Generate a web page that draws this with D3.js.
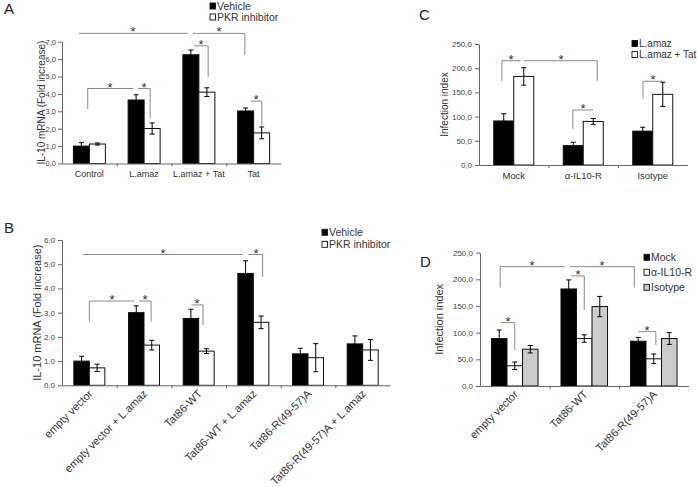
<!DOCTYPE html>
<html><head><meta charset="utf-8">
<script src="https://cdn.jsdelivr.net/npm/d3@7"></script>
<style>
html,body{margin:0;padding:0;background:#fff;}
svg{display:block;font-family:"Liberation Sans",Arial,sans-serif;}
</style></head>
<body>
<svg id="chart" width="697" height="487"></svg>
<script>
// ---------- Panel A ----------
const A_categories = ["Control", "L.amaz", "L.amaz + Tat", "Tat"];
const A_vehicle = [1.0, 3.65, 6.25, 3.02];
const A_vehicleErr = [0.2, 0.3, 0.27, 0.17];
const A_pkr = [1.12, 2.01, 4.1, 1.76];
const A_pkrErr = [0.06, 0.32, 0.25, 0.34];
const A_ticks = [0, 1, 2, 3, 4, 5, 6, 7];
const A_legend = ["Vehicle", "PKR inhibitor"];
// brackets: from/to in category units, y level, drop side, drop end value
const A_brackets = [
  {from: 0.31, to: 2.30, y: 7.48, drop: null, dropTo: null},
  {from: 2.39, to: 3.34, y: 7.48, drop: "R", dropTo: 6.22},
  {from: 2.41, to: 2.67, y: 6.76, drop: "R", dropTo: 4.98},
  {from: 0.47, to: 1.30, y: 4.31, drop: "L", dropTo: 3.12},
  {from: 1.39, to: 1.61, y: 4.31, drop: "R", dropTo: 2.6},
  {from: 3.45, to: 3.65, y: 3.58, drop: "R", dropTo: 2.1}
];

// ---------- Panel B ----------
const B_categories = ["empty vector", "empty vector + L.amaz", "Tat86-WT", "Tat86-WT + L.amaz", "Tat86-R(49-57)A", "Tat86-R(49-57)A + L.amaz"];
const B_vehicle = [1.0, 3.0, 2.76, 4.62, 1.3, 1.71];
const B_vehicleErr = [0.2, 0.28, 0.38, 0.52, 0.23, 0.33];
const B_pkr = [0.72, 1.66, 1.41, 2.6, 1.14, 1.46];
const B_pkrErr = [0.15, 0.2, 0.1, 0.26, 0.58, 0.43];
const B_ticks = [0, 1, 2, 3, 4, 5, 6];
const B_legend = ["Vehicle", "PKR inhibitor"];
const B_brackets = [
  {from: 0.39, to: 3.31, y: 5.4, drop: null, dropTo: null},
  {from: 3.41, to: 3.67, y: 5.4, drop: "R", dropTo: 4.49},
  {from: 0.50, to: 1.32, y: 3.48, drop: "L", dropTo: 2.63},
  {from: 1.41, to: 1.63, y: 3.48, drop: "R", dropTo: 2.63},
  {from: 2.37, to: 2.58, y: 3.32, drop: "R", dropTo: 2.49}
];

// ---------- Panel C ----------
const C_categories = ["Mock", "\u03b1-IL10-R", "Isotype"];
const C_lamaz = [91, 40, 70];
const C_lamazErr = [15, 7, 8];
const C_lamazTat = [183, 90, 146];
const C_lamazTatErr = [18, 6, 25];
const C_ticks = [0, 50, 100, 150, 200, 250];
const C_legend = ["L.amaz", "L.amaz + Tat"];
const C_brackets = [
  {from: 0.33, to: 0.60, y: 215.5, drop: "L", dropTo: 174},
  {from: 0.65, to: 1.70, y: 215.5, drop: "R", dropTo: 174},
  {from: 1.35, to: 1.64, y: 113.6, drop: "L", dropTo: 75},
  {from: 2.36, to: 2.65, y: 173, drop: "L", dropTo: 138}
];

// ---------- Panel D ----------
const D_categories = ["empty vector", "Tat86-WT", "Tat86-R(49-57)A"];
const D_mock = [89, 182, 84];
const D_mockErr = [16, 17, 7];
const D_antiIL10R = [38, 89, 51];
const D_antiIL10RErr = [7, 7, 9];
const D_isotype = [69, 149, 89];
const D_isotypeErr = [7, 19, 11];
const D_ticks = [0, 50, 100, 150, 200, 250];
const D_legend = ["Mock", "\u03b1-IL10-R", "Isotype"];
const D_brackets = [
  {from: 0.29, to: 1.22, y: 223.8, drop: "L", dropTo: 184.4},
  {from: 1.29, to: 2.22, y: 223.8, drop: "R", dropTo: 184.4},
  {from: 1.31, to: 1.50, y: 206.4, drop: "R", dropTo: 142.6},
  {from: 0.30, to: 0.50, y: 118.8, drop: "R", dropTo: 67.5},
  {from: 2.28, to: 2.53, y: 101.9, drop: "R", dropTo: 76.9}
];

const svg = d3.select("#chart");
const AXIS = "#666", TEXT = "#333", BRACKET = "#8a8a8a";
const fills = {black: "#000", white: "#fff", gray: "#cbcbcb"};
const fmt = d => d3.format(".1f")(d).replace(".", ",");

function panel(cfg) {
  const g = svg.append("g");
  const n = cfg.categories.length;
  const x = d3.scaleBand().domain(cfg.categories).range([cfg.left, cfg.right])
    .paddingInner(cfg.pad).paddingOuter(cfg.pad / 2);
  const xs = d3.scaleBand().domain(d3.range(cfg.series.length)).range([0, x.bandwidth()]);
  const u = d3.scaleLinear().domain([0, n]).range([cfg.left, cfg.right]);
  const y = d3.scaleLinear().domain([0, cfg.yMax]).range([cfg.bottom, cfg.top]);

  // bars
  cfg.series.forEach((s, si) => {
    g.append("g").selectAll("rect").data(s.values).join("rect")
      .attr("x", (d, i) => x(cfg.categories[i]) + xs(si))
      .attr("y", d => y(d))
      .attr("width", xs.bandwidth())
      .attr("height", d => y(0) - y(d))
      .attr("fill", fills[s.fill])
      .attr("stroke", "#111").attr("stroke-width", 1);
  });
  // error bars
  cfg.series.forEach((s, si) => {
    const eg = g.append("g").attr("stroke", "#000").attr("stroke-width", 1);
    s.values.forEach((v, i) => {
      const cx = x(cfg.categories[i]) + xs(si) + xs.bandwidth() / 2;
      const e = s.errors[i];
      eg.append("line").attr("x1", cx).attr("x2", cx).attr("y1", y(v - e)).attr("y2", y(v + e));
      eg.append("line").attr("x1", cx - 2.5).attr("x2", cx + 2.5).attr("y1", y(v + e)).attr("y2", y(v + e));
      eg.append("line").attr("x1", cx - 2.5).attr("x2", cx + 2.5).attr("y1", y(v - e)).attr("y2", y(v - e));
    });
  });

  // y axis
  const ya = g.append("g").attr("transform", `translate(${cfg.left},0)`)
    .call(d3.axisLeft(y).tickValues(cfg.ticks).tickFormat(fmt).tickSize(4).tickSizeOuter(0).tickPadding(cfg.tickPad));
  ya.select(".domain").attr("stroke", AXIS);
  ya.selectAll(".tick line").attr("stroke", AXIS);
  ya.selectAll(".tick text").attr("fill", "#444").attr("font-size", cfg.tickSize)
    .attr("font-family", "Liberation Sans, Arial, sans-serif");
  // x axis
  const xa = g.append("g").attr("transform", `translate(0,${cfg.bottom})`)
    .call(d3.axisBottom(u).tickValues(d3.range(1, n)).tickFormat("").tickSize(3).tickSizeOuter(0));
  xa.select(".domain").attr("stroke", AXIS);
  xa.selectAll(".tick line").attr("stroke", AXIS);

  // category labels
  const lab = g.append("g").attr("fill", TEXT).attr("font-size", cfg.labelSize);
  cfg.categories.forEach(c => {
    const cx = x(c) + x.bandwidth() / 2;
    if (cfg.rotate) {
      lab.append("text").attr("text-anchor", "end")
        .attr("transform", `translate(${cx + 4},${cfg.bottom + 9}) rotate(-45)`).text(c);
    } else {
      lab.append("text").attr("text-anchor", "middle").attr("x", cx).attr("y", cfg.bottom + cfg.labelDy).text(c);
    }
  });

  // axis title
  g.append("text").attr("fill", TEXT).attr("font-size", cfg.titleSize).attr("text-anchor", "middle")
    .attr("transform", `translate(${cfg.titleX},${(cfg.top + cfg.bottom) / 2}) rotate(-90)`)
    .text(cfg.title);

  // brackets
  const bg = g.append("g").attr("stroke", BRACKET).attr("stroke-width", 1).attr("fill", "none");
  cfg.brackets.forEach(b => {
    bg.append("line").attr("x1", u(b.from)).attr("x2", u(b.to)).attr("y1", y(b.y)).attr("y2", y(b.y));
    if (b.drop) {
      const xx = b.drop === "L" ? u(b.from) : u(b.to);
      bg.append("line").attr("x1", xx).attr("x2", xx).attr("y1", y(b.y)).attr("y2", y(b.dropTo));
    }
    g.append("text").attr("x", Math.round((u(b.from) + u(b.to)) / 2)).attr("y", Math.round(y(b.y) + 3))
      .attr("text-anchor", "middle").attr("font-size", 13).attr("fill", "#333").text("*");
  });

  // legend
  const lg = g.append("g");
  cfg.legend.forEach((name, i) => {
    const cy = cfg.legendY + i * cfg.legendStep;
    lg.append("rect").attr("x", cfg.legendX).attr("y", cy - 3).attr("width", 5.5).attr("height", 6)
      .attr("fill", fills[cfg.series[i].fill]).attr("stroke", "#111").attr("stroke-width", 0.9);
    lg.append("text").attr("x", cfg.legendX + 7).attr("y", cy + 3.8).attr("font-size", cfg.legendSize)
      .attr("fill", TEXT).text(name);
  });

  // panel letter
  svg.append("text").attr("x", cfg.letterX).attr("y", cfg.letterY).attr("font-size", 15)
    .attr("fill", "#222").text(cfg.letter);
}

panel({
  letter: "A", letterX: 4, letterY: 14,
  categories: A_categories, left: 62, right: 281, top: 41.7, bottom: 163.5, yMax: 7, pad: 0.4155,
  ticks: A_ticks, tickSize: 7.5, tickPad: 2,
  series: [{values: A_vehicle, errors: A_vehicleErr, fill: "black"}, {values: A_pkr, errors: A_pkrErr, fill: "white"}],
  brackets: A_brackets, labelSize: 9, labelDy: 13.5, rotate: false,
  title: "IL-10 mRNA (Fold increase)", titleX: 44.5, titleSize: 10,
  legend: A_legend, legendX: 210, legendY: 6, legendStep: 11, legendSize: 10.5
});

panel({
  letter: "B", letterX: 4, letterY: 233,
  categories: B_categories, left: 62, right: 390, top: 240, bottom: 385.3, yMax: 6, pad: 0.433,
  ticks: B_ticks, tickSize: 8, tickPad: 3,
  series: [{values: B_vehicle, errors: B_vehicleErr, fill: "black"}, {values: B_pkr, errors: B_pkrErr, fill: "white"}],
  brackets: B_brackets, labelSize: 11, rotate: true,
  title: "IL-10 mRNA (Fold increase)", titleX: 40.5, titleSize: 11,
  legend: B_legend, legendX: 322, legendY: 232.3, legendStep: 12, legendSize: 10.5
});

panel({
  letter: "C", letterX: 419, letterY: 20,
  categories: C_categories, left: 479, right: 687.5, top: 44, bottom: 165, yMax: 250, pad: 0.424,
  ticks: C_ticks, tickSize: 8, tickPad: 3,
  series: [{values: C_lamaz, errors: C_lamazErr, fill: "black"}, {values: C_lamazTat, errors: C_lamazTatErr, fill: "white"}],
  brackets: C_brackets, labelSize: 9.5, labelDy: 13.5, rotate: false,
  title: "Infection index", titleX: 447.5, titleSize: 10,
  legend: C_legend, legendX: 632, legendY: 43.5, legendStep: 11, legendSize: 10
});

panel({
  letter: "D", letterX: 420, letterY: 267,
  categories: D_categories, left: 480, right: 688.5, top: 252.7, bottom: 386, yMax: 250, pad: 0.33,
  ticks: D_ticks, tickSize: 8, tickPad: 3,
  series: [{values: D_mock, errors: D_mockErr, fill: "black"}, {values: D_antiIL10R, errors: D_antiIL10RErr, fill: "white"}, {values: D_isotype, errors: D_isotypeErr, fill: "gray"}],
  brackets: D_brackets, labelSize: 11, rotate: true,
  title: "Infection index", titleX: 442.5, titleSize: 11,
  legend: D_legend, legendX: 644, legendY: 257.3, legendStep: 15, legendSize: 10.5
});
</script>
</body></html>
